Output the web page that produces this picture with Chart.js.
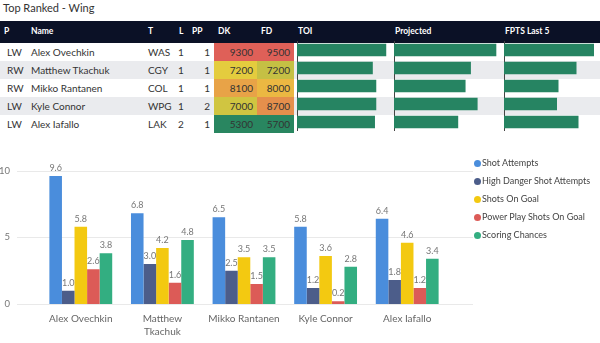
<!DOCTYPE html>
<html>
<head>
<meta charset="utf-8">
<script src="https://cdn.jsdelivr.net/npm/chart.js@4.4.1/dist/chart.umd.min.js"></script>
<style>
  body { margin: 0; width: 600px; height: 343px; overflow: hidden; background: #fff; position: relative;
         font-family: Lato, "Open Sans", sans-serif; }
  #title { position: absolute; left: 3px; top: 1px; font-size: 11px; color: #333; }
  #tbl { position: absolute; left: 0; top: 21px; width: 600px; border-collapse: collapse; table-layout: fixed;
         font-size: 10px; color: #333; }
  #tbl th { background: #0b1126; color: #fff; font-weight: bold; font-size: 8.5px; text-align: left;
            height: 20px; padding: 0 0 2px 4px; }
  #tbl td { height: 18px; padding: 0 0 0 4px; white-space: nowrap; }
  #tbl tr.alt td { background: #eaebee; }
  #tbl td.num { text-align: right; padding: 0 4px 0 0; }
  canvas { position: absolute; }
  #legend { position: absolute; left: 474px; top: 154px; font-size: 9px; color: #444; }
  #legend div { height: 18px; line-height: 18px; white-space: nowrap; }
  #legend span { display: inline-block; width: 7px; height: 7px; border-radius: 50%; margin-right: 1px; vertical-align: -0.5px; }
</style>
</head>
<body>
<div id="title">Top Ranked - Wing</div>
<table id="tbl">
  <colgroup>
    <col style="width:27px"><col style="width:117px"><col style="width:31px"><col style="width:13px">
    <col style="width:26px"><col style="width:43px"><col style="width:37px"><col style="width:97px">
    <col style="width:110px"><col style="width:99px">
  </colgroup>
  <thead><tr id="head"></tr></thead>
  <tbody id="body"></tbody>
</table>
<canvas id="toiChart" width="94" height="90" style="left:297px;top:41px"></canvas>
<canvas id="projChart" width="107" height="90" style="left:394px;top:41px"></canvas>
<canvas id="fptsChart" width="96" height="90" style="left:504px;top:41px"></canvas>
<canvas id="shotChart" width="600" height="208" style="left:0;top:135px"></canvas>
<div id="legend"></div>

<script>
// table
const columns = ['P', 'Name', 'T', 'L', 'PP', 'DK', 'FD', 'TOI', 'Projected', 'FPTS Last 5'];
const players = ['Alex Ovechkin', 'Matthew Tkachuk', 'Mikko Rantanen', 'Kyle Connor', 'Alex Iafallo'];
const positions = ['LW', 'RW', 'RW', 'LW', 'LW'];
const teams = ['WAS', 'CGY', 'COL', 'WPG', 'LAK'];
const lineNo = [1, 1, 1, 1, 2];
const ppUnit = [1, 1, 1, 2, 1];
const dkSalary = [9300, 7200, 8100, 7000, 5300];
const fdSalary = [9500, 7200, 8000, 8700, 5700];
// data bars
const toi = [20.6, 17.5, 18.3, 18.3, 18.0];
const projected = [15.3, 11.5, 10.7, 12.5, 9.6];
const fptsLast5 = [18.0, 14.5, 10.9, 10.6, 14.9];

// clustered column chart
const xTickLabels = ['Alex Ovechkin', ['Matthew', 'Tkachuk'], 'Mikko Rantanen', 'Kyle Connor', 'Alex Iafallo'];
const seriesNames = ['Shot Attempts', 'High Danger Shot Attempts', 'Shots On Goal', 'Power Play Shots On Goal', 'Scoring Chances'];
const shotAttempts = [9.6, 6.8, 6.5, 5.8, 6.4];
const highDanger = [1.0, 3.0, 2.5, 1.2, 1.8];
const shotsOnGoal = [5.8, 4.2, 3.5, 3.6, 4.6];
const ppShotsOnGoal = [2.6, 1.6, 1.5, 0.2, 1.2];
const scoringChances = [3.8, 4.8, 3.5, 2.8, 3.4];
const yTicks = [0, 5, 10];

const seriesColors = ['#4a8ddc', '#4c5d8a', '#f3c911', '#dc5b57', '#33ae81'];

// green - yellow - red colour scale for the salary cells
function heat(v, arr) {
  const lo = Math.min(...arr), hi = Math.max(...arr), mid = (lo + hi) / 2;
  const g = [41, 134, 96], y = [238, 208, 60], r = [223, 96, 88];
  let a, b, t;
  if (v <= mid) { a = g; b = y; t = (v - lo) / (mid - lo); }
  else { a = y; b = r; t = (v - mid) / (hi - mid); }
  const c = a.map((x, i) => Math.round(x + (b[i] - x) * t));
  return 'rgb(' + c.join(',') + ')';
}

document.getElementById('head').innerHTML = columns.map(c => '<th>' + c + '</th>').join('');
document.getElementById('body').innerHTML = players.map((p, i) =>
  '<tr class="' + (i % 2 ? 'alt' : '') + '">' +
  '<td style="padding-left:7px">' + positions[i] + '</td>' +
  '<td>' + p + '</td>' +
  '<td>' + teams[i] + '</td>' +
  '<td style="padding-left:3px">' + lineNo[i] + '</td>' +
  '<td class="num">' + ppUnit[i] + '</td>' +
  '<td class="num" style="background:' + heat(dkSalary[i], dkSalary) + '">' + dkSalary[i] + '</td>' +
  '<td class="num" style="background:' + heat(fdSalary[i], fdSalary) + '">' + fdSalary[i] + '</td>' +
  '<td></td><td></td><td></td></tr>').join('');

function dataBars(id, values, max) {
  new Chart(document.getElementById(id), {
    type: 'bar',
    data: {
      labels: players,
      datasets: [{ data: values, backgroundColor: '#268462', barPercentage: 0.69, categoryPercentage: 1 }]
    },
    options: {
      indexAxis: 'y',
      responsive: false,
      animation: false,
      events: [],
      layout: { padding: 0 },
      plugins: { legend: { display: false }, tooltip: { enabled: false } },
      scales: {
        x: { display: false, min: 0, max: max },
        y: {
          ticks: { display: false },
          grid: { display: false, drawTicks: false },
          border: { display: true, dash: [2, 2], color: '#444', width: 1 }
        }
      }
    }
  });
}
dataBars('toiChart', toi, 21.7);
dataBars('projChart', projected, 16.0);
dataBars('fptsChart', fptsLast5, 19.2);

// grid lines run a little past the columns on both sides
const wideGrid = {
  id: 'wideGrid',
  beforeDatasetsDraw(chart) {
    const { ctx, chartArea, scales } = chart;
    ctx.save();
    ctx.strokeStyle = '#e9e9e9';
    ctx.lineWidth = 1;
    scales.y.ticks.forEach(t => {
      const py = Math.round(scales.y.getPixelForValue(t.value)) + 0.5;
      ctx.beginPath();
      ctx.moveTo(chartArea.left - 23, py);
      ctx.lineTo(chartArea.right + 25, py);
      ctx.stroke();
    });
    ctx.restore();
  }
};

const valueLabels = {
  id: 'valueLabels',
  afterDatasetsDraw(chart) {
    const ctx = chart.ctx;
    ctx.save();
    ctx.font = '9px Lato, "Open Sans", sans-serif';
    ctx.fillStyle = '#777';
    ctx.textAlign = 'center';
    ctx.textBaseline = 'alphabetic';
    chart.data.datasets.forEach((ds, i) => {
      chart.getDatasetMeta(i).data.forEach((bar, j) => {
        ctx.fillText(ds.data[j].toFixed(1), bar.x, bar.y - 5);
      });
    });
    ctx.restore();
  }
};

const seriesData = [shotAttempts, highDanger, shotsOnGoal, ppShotsOnGoal, scoringChances];

new Chart(document.getElementById('shotChart'), {
  type: 'bar',
  data: {
    labels: xTickLabels,
    datasets: seriesNames.map((name, i) => ({
      label: name,
      data: seriesData[i],
      backgroundColor: seriesColors[i],
      barPercentage: 1,
      categoryPercentage: 0.77
    }))
  },
  options: {
    responsive: false,
    animation: false,
    events: [],
    layout: { padding: { top: 33, right: 152, left: 0, bottom: 0 } },
    plugins: { legend: { display: false }, tooltip: { enabled: false } },
    scales: {
      x: {
        grid: { display: false, drawTicks: false },
        border: { display: false },
        ticks: { color: '#666', padding: 8, font: { family: 'Lato', size: 10, lineHeight: 1.3 } },
        afterFit: s => { s.height = 39; }
      },
      y: {
        min: 0,
        max: 10,
        afterBuildTicks: s => { s.ticks = yTicks.map(v => ({ value: v })); },
        grid: { display: false, drawTicks: false },
        border: { display: false },
        ticks: { color: '#777', padding: 30, font: { family: 'Lato', size: 9.5 } },
        afterFit: s => { s.width = 40; }
      }
    }
  },
  plugins: [wideGrid, valueLabels]
});

document.getElementById('legend').innerHTML = seriesNames.map((n, i) =>
  '<div><span style="background:' + seriesColors[i] + '"></span>' + n + '</div>').join('');
</script>
</body>
</html>
